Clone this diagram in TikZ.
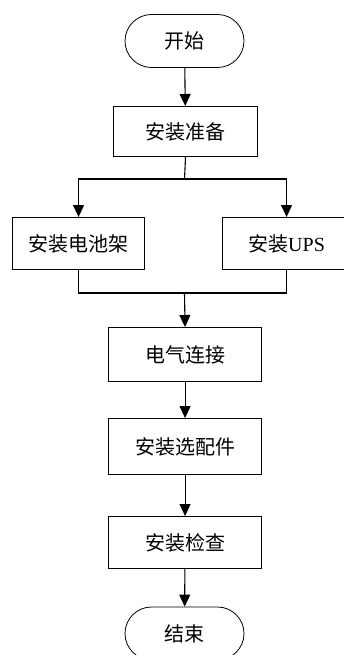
\documentclass[tikz,border=0pt]{standalone}
\usepackage{fontspec}
\setmainfont{Liberation Serif}
\newfontfamily\cjk{Noto Sans CJK SC}
\usetikzlibrary{arrows.meta,shapes.misc}
\begin{document}
\begin{tikzpicture}[x=1pt,y=-1pt,
  every node/.style={font=\fontsize{20}{23}\selectfont, inner sep=0pt},
  procbox/.style={draw, line width=1.1pt, minimum height=#1, anchor=north west},
  termbox/.style={draw, line width=0.8pt, rounded rectangle, minimum width=119pt, minimum height=53pt},
  conn/.style={line width=1.1pt},
  arr/.style={conn, -{Triangle[width=11pt,length=12pt]}}
]
\useasboundingbox (0,0) rectangle (344,655);
\node[termbox] (start) at (184.5,41) {\cjk 开始};
\node[procbox=50pt, minimum width=144pt] (prep) at (113,106) {};
\node at (prep.center) {\cjk 安装准备};
\node[procbox=52pt, minimum width=132pt] (rack) at (12,217) {};
\node at (rack.center) {\cjk 安装电池架};
\node[procbox=52pt, minimum width=128pt] (ups) at (222,217) {};
\node at (ups.center) {{\cjk 安装}UPS};
\node[procbox=54pt, minimum width=153pt] (elec) at (108,327) {};
\node at (elec.center) {\cjk 电气连接};
\node[procbox=56pt, minimum width=153pt] (opt) at (108,418) {};
\node at (opt.center) {\cjk 安装选配件};
\node[procbox=52pt, minimum width=153pt] (chk) at (108,516) {};
\node at (chk.center) {\cjk 安装检查};
\node[termbox] (end) at (184.5,633.5) {\cjk 结束};

\coordinate (split) at (184.5,179);
\coordinate (join) at (184.5,293);
\draw[arr] (start) -- (prep);
\draw[conn] (prep.south) -- (split);
\draw[arr] (split) -| (rack.north);
\draw[arr] (split) -| (ups.north);
\draw[conn] (rack.south) |- (join);
\draw[conn] (ups.south) |- (join);
\draw[arr] (join) -- (elec.north);
\draw[arr] (elec) -- (opt);
\draw[arr] (opt) -- (chk);
\draw[arr] (chk) -- (end);
\end{tikzpicture}
\end{document}
